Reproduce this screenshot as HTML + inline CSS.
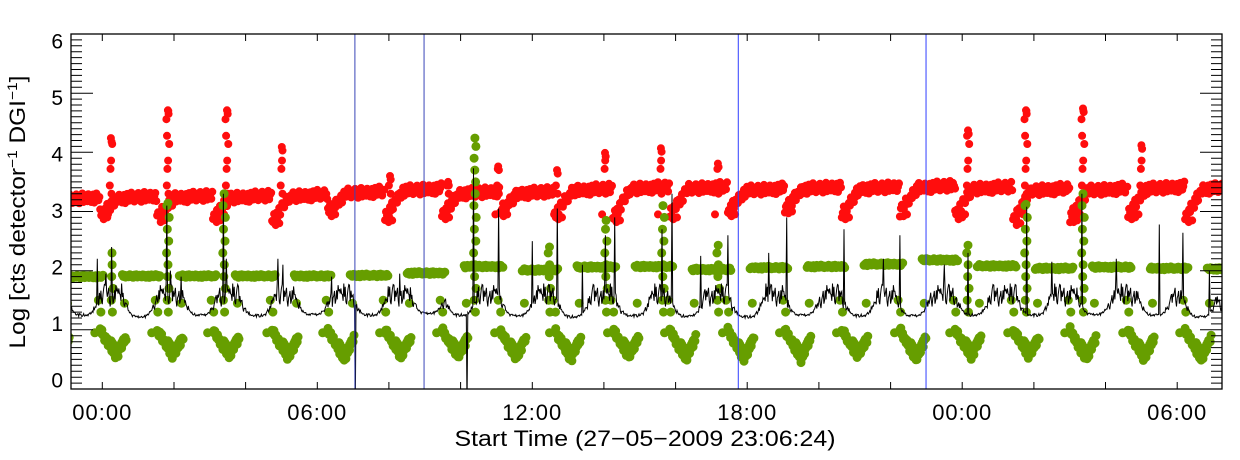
<!DOCTYPE html>
<html><head><meta charset="utf-8"><title>Log counts time series</title>
<style>
html,body{margin:0;padding:0;background:#fff;}
svg{display:block;font-family:"Liberation Sans",Arial,sans-serif;}
</style></head>
<body>
<svg id="chart" width="1240" height="460" viewBox="0 0 1240 460" xmlns="http://www.w3.org/2000/svg">
<rect x="0" y="0" width="1240" height="460" fill="#fff"/>
<defs><clipPath id="plotclip"><rect x="71" y="34" width="1151" height="355"/></clipPath></defs>
<g id="marks" clip-path="url(#plotclip)"></g>
<g id="axes"></g>
<text x="25" y="212" transform="rotate(-90 25 212)" text-anchor="middle" font-size="22" textLength="273" lengthAdjust="spacingAndGlyphs">Log [cts detector<tspan dy="-8" font-size="14">−1</tspan><tspan dy="8"> DGI</tspan><tspan dy="-8" font-size="14">−1</tspan><tspan dy="8">]</tspan></text>
<text x="645" y="446" text-anchor="middle" font-size="22" textLength="381" lengthAdjust="spacingAndGlyphs">Start Time (27−05−2009 23:06:24)</text>
</svg>
<script>
// ---- data (hours relative to 00:00, values in log units) ----
const dipStart = [-1.65,-0.06,1.53,3.09,4.74,6.30,7.89,9.48,11.10,12.63,14.25,15.84,17.46,19.05,20.64,22.26,23.80,25.42,27.01,28.63,30.22,31.8];
const plateauLevel = [1.9,1.91,1.91,1.91,1.91,1.92,1.96,2.07,2.01,2.06,2.07,2.02,2.05,2.07,2.11,2.18,2.08,2.04,2.06,2.04,2.03,2.03];
const dipMin = [0.55,0.55,0.55,0.55,0.52,0.5,0.55,0.55,0.52,0.5,0.55,0.5,0.5,0.5,0.55,0.5,0.55,0.55,0.5,0.5,0.5,0.5];
const greenSaaT = [0.27,1.83,3.4,10.4,12.48,14.06,15.65,17.19,24.16,25.78,27.37];
const greenSaaV = [2.3,3.14,3.3,4.24,2.4,2.85,3.1,2.43,2.43,3.12,3.3];
const redLow = [3.0,2.95,2.9,2.9,2.85,3.0,2.9,2.95,3.0,2.95,2.9,2.95,3.0,3.05,2.95,3.0,2.95,2.85,2.9,2.95,2.9,3.0];
const redHigh = [3.2,3.22,3.23,3.23,3.25,3.3,3.35,3.3,3.3,3.35,3.38,3.38,3.35,3.38,3.38,3.4,3.38,3.35,3.35,3.38,3.38,3.4];
const redSpikeT = [0.24,1.83,3.48,5.01,8.03,9.65,11.05,12.69,14.03,15.59,17.18,24.16,25.78,27.37,29.0];
const redSpikeV = [4.24,4.71,4.71,4.09,3.6,3.5,3.76,3.7,3.99,4.07,3.81,4.37,4.71,4.74,4.12];
const blackValleyT = [-0.54,1.05,2.73,4.32,5.88,7.47,9.1,10.0,11.58,13.14,14.81,16.32,17.99,19.55,21.14,22.63,24.3,26.0,27.7,29.38,30.64,31.6];
const blackValleyV = [1.25,1.22,1.25,1.24,1.26,1.25,1.28,1.25,1.24,1.22,1.24,1.23,1.22,1.25,1.24,1.24,1.25,1.25,1.26,1.25,1.22,1.25];
const blackPeakV = [1.65,1.7,1.65,1.65,1.6,1.65,1.65,1.7,1.65,1.65,1.6,1.65,1.65,1.6,1.65,1.65,1.65,1.7,1.65,1.65,1.65,1.65];
const blackSpikeT = [-0.15,0.27,1.8,1.9,3.37,3.45,5.04,7.05,10.18,10.35,11.05,12.0,12.69,14.03,14.3,15.62,15.9,17.46,19.1,20.7,22.26,24.16,25.8,27.34,29.5,30.16,31.25,0.1,2.2,4.9,6.4,8.3,13.4,16.7,18.6,21.8,23.5,26.5,28.3,30.9];
const blackSpikeV = [2.2,2.4,3.1,2.0,3.3,2.2,2.1,-0.3,-0.3,3.73,3.05,2.5,3.05,2.6,2.9,2.7,3.3,2.6,2.9,2.7,2.6,2.3,3.08,3.3,2.78,2.64,2.0,1.95,1.9,2.2,1.9,1.95,2.1,2.25,2.3,2.2,2.1,2.15,2.2,2.0];
const markerT = [7.05,8.98,17.75,22.99];
const xTickH = [0,6,12,18,24,30];
const xTickLabels = ["00:00","06:00","12:00","18:00","00:00","06:00"];
const yTicks = [0,1,2,3,4,5,6];
const J = [0.3,-0.5,0.8,-0.2,0.1,-0.9,0.6,-0.4,0.9,-0.7,0.2,0.5,-0.1,-0.6,0.7,-0.3,0.4,-0.8,0.0,0.6,-0.95,0.35,0.75,-0.15,-0.55,0.05,0.95,-0.35,0.45,-0.75,0.15];

// ---- scales ----
const X = h => 102.3 + h*35.83;
const Y = v => 389 - v*59.17;
const NS = "http://www.w3.org/2000/svg";
const marks = document.getElementById('marks');
const axes = document.getElementById('axes');
function mk(tag, parent){ const e = document.createElementNS(NS, tag); parent.appendChild(e); return e; }
function dot(t, v, r){ const x = X(t), y = Y(v); return `M${(x-r).toFixed(1)},${y.toFixed(1)}a${r},${r} 0 1,0 ${2*r},0a${r},${r} 0 1,0 ${-2*r},0`; }

// ---- red series ----
const redG = mk('g', marks);


let red = '';
let ji = 0;
for (let k=0; k<dipStart.length-1; k++){
  const t0 = dipStart[k], t1 = dipStart[k+1];
  for (let t=t0; t<t1; t+=0.028){
    const dt = t - t0;
    let v = dt < 0.5 ? redLow[k] + (redHigh[k]-redLow[k])*(dt/0.5) : redHigh[k] + 0.06*((dt-0.5)/(t1-t0));
    v += J[ji++ % J.length]*0.09;
    red += dot(t, v, 4);
  }
  red += dot(t0+0.1, redLow[k]-0.08, 4);
  red += dot(t0+0.2, redLow[k]-0.05, 4);
}
for (let i=0; i<redSpikeT.length; i++){
  for (let v=3.3, n=0; v<=redSpikeV[i]; v+=0.14, n++){
    if (n % 3 === 2) continue;
    red += dot(redSpikeT[i] + J[n % J.length]*0.06, v, 4);
  }
  red += dot(redSpikeT[i], redSpikeV[i], 4);
  red += dot(redSpikeT[i]+0.02, redSpikeV[i]-0.06, 4);
  red += dot(redSpikeT[i]-0.08, 2.95, 4);
}
const redP = mk('path', redG);
redP.setAttribute('d', red);
redP.setAttribute('fill', '#ff0d0d');



// ---- green series ----
const greenG = mk('g', marks);


let green = '';
for (let k=0; k<dipStart.length-1; k++){
  const t0 = dipStart[k], t1 = dipStart[k+1];
  for (let t=t0+0.62; t<t1+0.1; t+=0.03){
    green += dot(t, plateauLevel[k] + J[ji++ % J.length]*0.025, 4.5);
  }
  for (let dt=0; dt<=0.75; dt+=0.025){
    const u = dt/0.75;
    const v = u < 0.6 ? 1.0 - (1.0-dipMin[k])*(u/0.6) : dipMin[k] + (0.9-dipMin[k])*((u-0.6)/0.4);
    green += dot(t0+dt, v + J[ji++ % J.length]*0.06, 4.5);
    if (u > 0.35 && u < 0.85) green += dot(t0+dt+0.03, v + 0.09, 4.5);
  }
  green += dot(t0-0.05, 1.5, 4.5);
  green += dot(t0+0.02, 1.3, 4.5);
  green += dot(t0+0.68, 1.45, 4.5);
  green += dot(t0-0.15, 0.95, 4.5);
}
for (let i=0; i<greenSaaT.length; i++){
  for (let v=1.3, n=0; v<=greenSaaV[i]; v+=0.2, n++){
    green += dot(greenSaaT[i] + J[n % J.length]*0.04, v, 4.5);
  }
  green += dot(greenSaaT[i], greenSaaV[i], 4.5);
}
const greenP = mk('path', greenG);
greenP.setAttribute('d', green);
greenP.setAttribute('fill', '#669e00');



// ---- black line ----
const ts = [], vs = [];
for (let t=-0.9, n=0; t<=31.3; t+=0.02, n++){
  let v = 99, best = 0;
  for (let i=0; i<blackValleyT.length; i++){
    const d = Math.max(0, Math.abs(t-blackValleyT[i]) - 0.1);
    const kk = (blackPeakV[i]-blackValleyV[i])/(0.45*0.45);
    const c = Math.min(blackPeakV[i], blackValleyV[i] + kk*d*d);
    if (c < v){ v = c; best = i; }
  }
  const frac = (v - blackValleyV[best])/(blackPeakV[best]-blackValleyV[best]);
  v += J[(n*7) % J.length]*0.2*frac + J[(n*3) % J.length]*0.025;
  ts.push(t); vs.push(v);
}
for (let i=0; i<blackSpikeT.length; i++){
  const idx = Math.round((blackSpikeT[i]+0.9)/0.02);
  if (idx>=0 && idx<vs.length) vs[idx] = blackSpikeV[i];
}
let bl = '';
for (let i=0; i<ts.length; i++) bl += (i?'L':'M') + X(ts[i]).toFixed(1) + ',' + Y(vs[i]).toFixed(1);
const blackP = mk('path', marks);
blackP.setAttribute('d', bl);
blackP.setAttribute('fill', 'none');
blackP.setAttribute('stroke', '#000');
blackP.setAttribute('stroke-width', '1');



// ---- vertical markers ----
for (let i=0; i<markerT.length; i++){
  const l = mk('line', marks);
  l.setAttribute('x1', X(markerT[i])); l.setAttribute('x2', X(markerT[i]));
  l.setAttribute('y1', 34); l.setAttribute('y2', 389);
  l.setAttribute('stroke', i<2 ? '#3a45b8' : '#2f3dff');
  l.setAttribute('stroke-width', '1');
  
  
}

// ---- axes ----
const frame = mk('rect', axes);
frame.setAttribute('x', 71); frame.setAttribute('y', 34);
frame.setAttribute('width', 1151); frame.setAttribute('height', 355);
frame.setAttribute('fill', 'none'); frame.setAttribute('stroke', '#000'); frame.setAttribute('stroke-width', '1.3');


let tk = '';
for (let h=0; h<=30; h+=2){ const x = X(h).toFixed(1); tk += `M${x},389v-7M${x},34v7`; }
for (let v=0; v<=6.001; v+=0.1){
  const y = Y(v).toFixed(1);
  const major = Math.abs(v - Math.round(v)) < 0.01;
  const len = major ? 22 : 11;
  tk += `M71,${y}h${len}M1222,${y}h${-len}`;
}
const tp = mk('path', axes);
tp.setAttribute('d', tk);
tp.setAttribute('stroke', '#000'); tp.setAttribute('stroke-width', '1');


for (let i=0; i<xTickH.length; i++){
  const t = mk('text', axes);
  t.setAttribute('x', X(xTickH[i])); t.setAttribute('y', 420);
  t.setAttribute('text-anchor', 'middle'); t.setAttribute('font-size', '22');
  t.setAttribute('letter-spacing', '1');
  
  
  t.textContent = xTickLabels[i];
}
for (let i=0; i<yTicks.length; i++){
  const t = mk('text', axes);
  const cy = 380 - (yTicks[i]/6)*339;
  t.setAttribute('x', 63); t.setAttribute('y', (cy+7.5).toFixed(1));
  t.setAttribute('text-anchor', 'end'); t.setAttribute('font-size', '21');
  
  
  t.textContent = String(yTicks[i]);
}
</script>
</body></html>
